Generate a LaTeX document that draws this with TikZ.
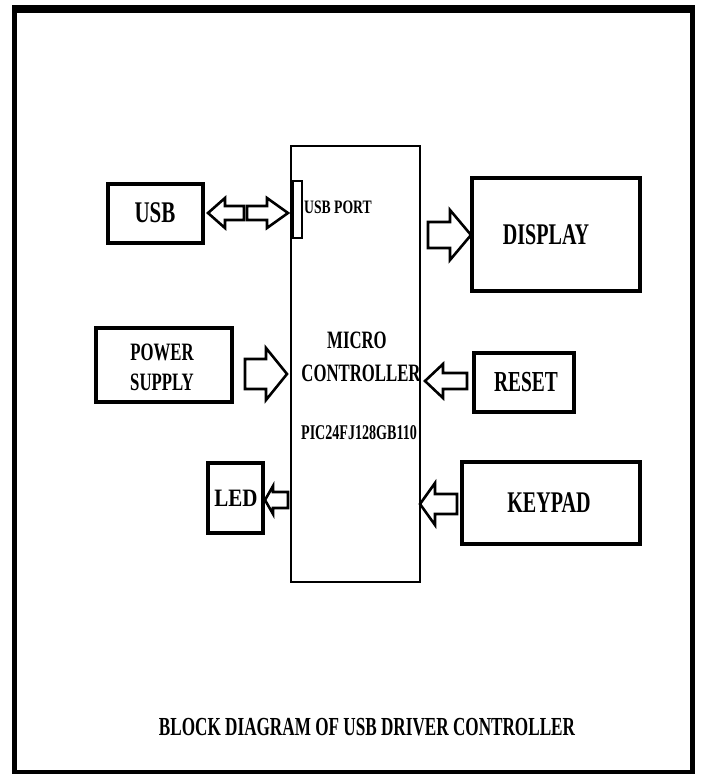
\documentclass[tikz,border=0pt]{standalone}
\usepackage{fontspec}
\setmainfont{Liberation Serif}
\newcommand\sqtext[3]{\scalebox{#1}[1]{\fontsize{#2pt}{#2pt}\selectfont\bfseries #3}}
% right-pointing block arrow: x0, x1, yc, shaft half, head half, head length
\newcommand\blockarrowR[6]{\draw[barrow] (#1,#3-#4) -- (#2-#6,#3-#4) -- (#2-#6,#3-#5) -- (#2,#3) -- (#2-#6,#3+#5) -- (#2-#6,#3+#4) -- (#1,#3+#4) -- cycle;}
% left-pointing block arrow: tip x0, tail x1
\newcommand\blockarrowL[6]{\draw[barrow] (#2,#3-#4) -- (#1+#6,#3-#4) -- (#1+#6,#3-#5) -- (#1,#3) -- (#1+#6,#3+#5) -- (#1+#6,#3+#4) -- (#2,#3+#4) -- cycle;}
\tikzset{
  blk/.style={draw=black, line width=3.5pt, fill=white},
  barrow/.style={draw=black, line width=2.6pt, fill=white, line join=miter, miter limit=10},
  lbl/.style={inner sep=0pt, text=black}
}
\begin{document}
\begin{tikzpicture}[x=1pt,y=-1pt]
\useasboundingbox (0,0) rectangle (701,774);
\fill[white] (0,0) rectangle (701,774);
% outer frame
\draw[line width=5pt] (14.5,9) rectangle (692.5,772);
\fill[black] (12,5) rectangle (695,13);
% microcontroller
\draw[line width=2pt] (291,146) rectangle (420,582);
\coordinate (mcN) at (355,146);
\node[lbl] (mc1) at (357,340) {\sqtext{0.67}{25}{MICRO}};
\node[lbl] (mc2) at (361,373) {\sqtext{0.67}{25}{CONTROLLER}};
\node[lbl] (mc3) at (359,433) {\sqtext{0.67}{21}{PIC24FJ128GB110}};
% usb port
\draw[line width=2.5pt] (293,181) rectangle (302,238);
\node[lbl, anchor=west] (usbport) at (304,207) {\sqtext{0.72}{19}{USB PORT}};
% boxes
\draw[blk] (108,184) rectangle (203,243);
\node[lbl] (usb) at (155,213) {\sqtext{0.7}{30}{USB}};
\draw[blk] (472,178) rectangle (640,291);
\node[lbl] (disp) at (546,235) {\sqtext{0.67}{30}{DISPLAY}};
\draw[blk] (96,328) rectangle (232,402);
\node[lbl] (pw1) at (162,352) {\sqtext{0.67}{25}{POWER}};
\node[lbl] (pw2) at (162,382) {\sqtext{0.67}{25}{SUPPLY}};
\draw[blk] (474,353) rectangle (574,412);
\node[lbl] (reset) at (526,382) {\sqtext{0.67}{29}{RESET}};
\draw[blk] (208,463) rectangle (263,533);
\node[lbl] (led) at (236,498) {\sqtext{0.84}{25}{LED}};
\draw[blk] (462,462) rectangle (640,544);
\node[lbl] (key) at (549,503) {\sqtext{0.67}{30}{KEYPAD}};
% arrows
\blockarrowL{208}{244}{213}{7}{15}{17}
\blockarrowR{247}{288}{213}{7}{15}{21}
\blockarrowR{428}{471}{235}{13}{25}{21}
\blockarrowR{245}{287}{374}{15}{26}{21}
\blockarrowL{425}{467}{381}{8}{17}{18}
\blockarrowL{265}{288}{500}{8}{14}{8}
\blockarrowL{420}{457}{504}{10}{21}{15}
% title
\node[lbl] (title) at (367,727) {\sqtext{0.66}{26}{BLOCK DIAGRAM OF USB DRIVER CONTROLLER}};
\end{tikzpicture}
\end{document}
